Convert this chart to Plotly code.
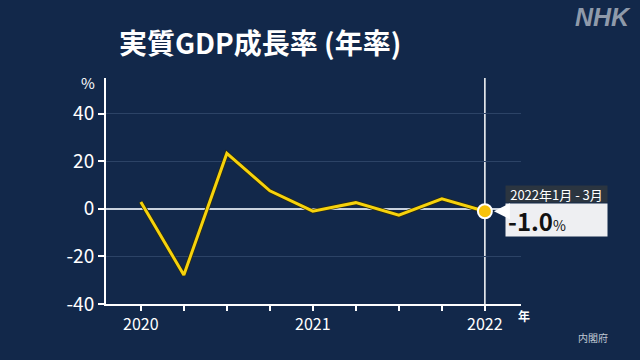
import plotly.graph_objects as go

# Data
quarters = ["2020年1月 - 3月", "2020年4月 - 6月", "2020年7月 - 9月", "2020年10月 - 12月",
            "2021年1月 - 3月", "2021年4月 - 6月", "2021年7月 - 9月", "2021年10月 - 12月",
            "2022年1月 - 3月"]
qindex = list(range(len(quarters)))
growth = [2.9, -27.8, 23.3, 7.6, -1.0, 2.6, -2.7, 4.2, -1.0]
year_ticks = [0, 4, 8]
year_labels = ["2020", "2021", "2022"]
y_ticks = [-40, -20, 0, 20, 40]
y_labels = ["-40", "-20", "0", "20", "40"]

BG = "#12284a"
FONT = "Noto Sans CJK JP"
YELLOW = "#f6d20c"

fig = go.Figure()

# line
fig.add_trace(go.Scatter(
    x=qindex, y=growth, mode="lines",
    line=dict(color="#2a2a10", width=4.5), hoverinfo="skip", showlegend=False))
fig.add_trace(go.Scatter(
    x=qindex, y=growth, mode="lines",
    line=dict(color=YELLOW, width=3), showlegend=False))
# last point marker
fig.add_trace(go.Scatter(
    x=[qindex[-1]], y=[growth[-1]], mode="markers",
    marker=dict(color="#f7c20a", size=14, line=dict(color="white", width=2)),
    showlegend=False))

tickvals = qindex
ticktext = [year_labels[year_ticks.index(i)] if i in year_ticks else "" for i in qindex]

fig.update_layout(
    width=640, height=360,
    paper_bgcolor=BG, plot_bgcolor=BG,
    margin=dict(l=106, r=119, t=78, b=56),
    font=dict(family=FONT, color="white"),
    xaxis=dict(range=[-0.81, 8.84], tickvals=tickvals, ticktext=ticktext,
               ticks="outside", ticklen=5, tickwidth=1.5, tickcolor="white",
               showline=True, linecolor="white", linewidth=2,
               showgrid=False, zeroline=False,
               tickfont=dict(size=16, color="white", family=FONT), fixedrange=True),
    yaxis=dict(range=[-40, 55], tickvals=y_ticks, ticktext=y_labels,
               ticks="outside", ticklen=6, tickwidth=1.5, tickcolor="white",
               showline=True, linecolor="white", linewidth=2,
               showgrid=True, gridcolor="#2c4366", gridwidth=1.2,
               zeroline=True, zerolinecolor="#c9d2de", zerolinewidth=1.5,
               tickfont=dict(size=19, color="white", family=FONT), fixedrange=True),
)

# vertical line at latest quarter
fig.add_shape(type="line", xref="x", yref="paper", x0=qindex[-1], x1=qindex[-1], y0=0, y1=1,
              line=dict(color="white", width=1.5), layer="below")

# title
fig.add_annotation(text="<b>実質GDP成長率 (年率)</b>", xref="paper", yref="paper",
                   x=(117-106)/415, y=1 + (78-42)/226, xanchor="left", yanchor="middle",
                   showarrow=False, font=dict(size=28, color="white", family=FONT))
# NHK logo
fig.add_annotation(text="<b><i>NHK</i></b>", xref="paper", yref="paper",
                   x=(633-106)/415, y=1 + (78-17)/226, xanchor="right", yanchor="middle",
                   showarrow=False, font=dict(size=25, color="#8f9aaa", family="Liberation Sans"))
# % unit
fig.add_annotation(text="%", xref="paper", yref="paper",
                   x=(97-106)/415, y=1 + (78-82)/226, xanchor="right", yanchor="middle",
                   showarrow=False, font=dict(size=15, color="white", family=FONT))
# 年 unit
fig.add_annotation(text="<b>年</b>", xref="paper", yref="paper",
                   x=(516-106)/415, y=(304-315)/226, xanchor="left", yanchor="middle",
                   showarrow=False, font=dict(size=12, color="white", family=FONT))
# source
fig.add_annotation(text="内閣府", xref="paper", yref="paper",
                   x=(593-106)/415, y=(304-337)/226, xanchor="center", yanchor="middle",
                   showarrow=False, font=dict(size=10, color="#c0c8d4", family=FONT))

# callout box for last point
lx, ly = qindex[-1], growth[-1]
fig.add_annotation(text="2022年1月 - 3月", x=lx, y=ly, xref="x", yref="y",
                   xshift=20, yshift=17, xanchor="left", yanchor="middle",
                   showarrow=False, bgcolor="#2b3540", width=101, height=16,
                   borderpad=0, align="center",
                   font=dict(size=13, color="white", family=FONT))
fig.add_annotation(text="<b>-1.0</b><span style='font-size:14px'>%</span>", x=lx, y=ly,
                   xref="x", yref="y",
                   xshift=20, yshift=-8.5, xanchor="left", yanchor="middle",
                   showarrow=False, bgcolor="#eeeff2", width=97, height=28,
                   borderpad=2, align="left",
                   font=dict(size=24, color="#111111", family=FONT))
# pointer triangle
fig.add_annotation(text="", x=lx, y=ly, xref="x", yref="y", ax=20, ay=0,
                   axref="pixel", ayref="pixel", showarrow=True, arrowhead=2,
                   arrowsize=1.6, arrowwidth=2, arrowcolor="white", standoff=9)

fig.write_html("out.html", config={"displayModeBar": False},
               post_script="document.body.style.margin='0';document.body.style.background='" + BG + "';")
